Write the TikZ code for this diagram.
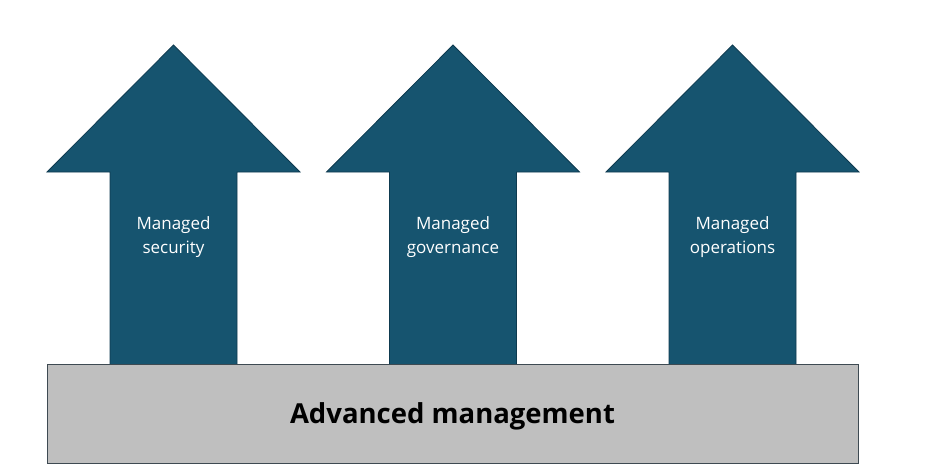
\documentclass[tikz,border=0pt]{standalone}
\usepackage{fontspec}
\setmainfont{Open Sans}
\definecolor{arrowblue}{HTML}{16546F}
\definecolor{arrowedge}{HTML}{0E3A4F}
\definecolor{basegray}{HTML}{BFBFBF}
\definecolor{baseedge}{HTML}{3E4A52}
\begin{document}
\begin{tikzpicture}[x=1pt,y=-1pt,
  uparrow/.style={fill=arrowblue,draw=arrowedge,line width=0.8pt},
  basebox/.style={fill=basegray,draw=baseedge,line width=0.8pt},
  armlabel/.style={text=white,align=center,font=\fontsize{17}{24}\selectfont,inner sep=0pt},
  baselabel/.style={text=black,font=\fontsize{27.5}{30}\selectfont\bfseries,inner sep=0pt}]
\useasboundingbox (0,0) rectangle (936,475);
\foreach \dx in {0,279.5,559}{
  \draw[uparrow] ({110+\dx},365) -- ({110+\dx},172) -- ({47+\dx},172) -- ({173.5+\dx},45)
     -- ({300+\dx},172) -- ({237+\dx},172) -- ({237+\dx},365) -- cycle;
}
\draw[basebox] (47,364) rectangle (858,463);
\node[armlabel,anchor=base] (ms) at (173.5,253) {Managed\\security};
\node[armlabel,anchor=base] (mg) at (453,253) {Managed\\governance};
\node[armlabel,anchor=base] (mo) at (732.5,253) {Managed\\operations};
\node[baselabel,anchor=base] (am) at (452.5,423) {Advanced management};
\end{tikzpicture}
\end{document}
